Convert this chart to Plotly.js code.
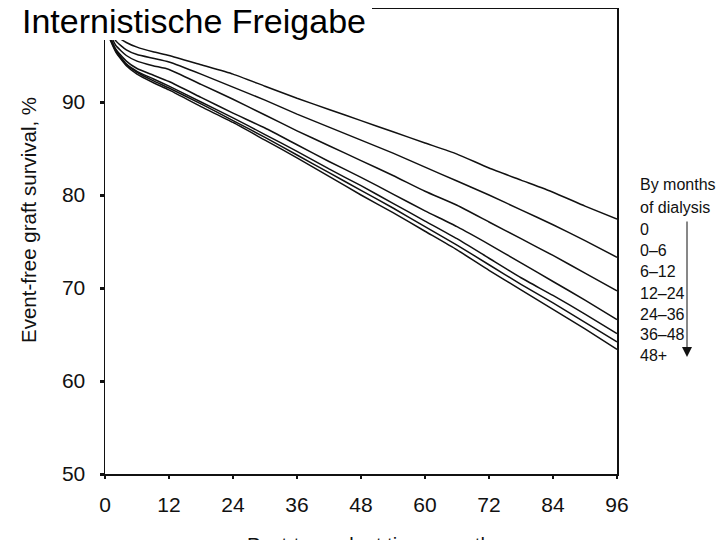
<!DOCTYPE html>
<html>
<head>
<meta charset="utf-8">
<script src="https://cdn.plot.ly/plotly-3.0.1.min.js"></script>
<style>html,body{margin:0;padding:0;background:#fff;}#chart{width:720px;height:540px;}</style>
</head>
<body>
<div id="chart"></div>
<script>
// Months post transplant
const months = [0, 2, 4, 6, 9, 12, 18, 24, 30, 36, 42, 48, 54, 60, 66, 72, 78, 84, 90, 96];
// Series: event-free graft survival (%) by months of dialysis
const seriesNames = ["0", "0–6", "6–12", "12–24", "24–36", "36–48", "48+"];
const surv0    = [99.5, 97.2, 96.4, 95.9, 95.4, 95.0, 94.0, 93.0, 91.7, 90.4, 89.2, 88.0, 86.8, 85.6, 84.4, 82.9, 81.6, 80.3, 78.8, 77.4];
const surv0_6  = [99.0, 96.6, 95.6, 95.1, 94.7, 94.3, 93.0, 91.6, 90.2, 88.7, 87.3, 85.9, 84.5, 83.0, 81.5, 80.0, 78.4, 76.8, 75.1, 73.3];
const surv6_12 = [98.6, 96.1, 95.0, 94.4, 93.9, 93.5, 91.9, 90.3, 88.6, 86.9, 85.3, 83.7, 82.1, 80.4, 78.9, 77.1, 75.3, 73.5, 71.6, 69.7];
const surv12_24= [98.3, 95.7, 94.4, 93.6, 92.9, 92.2, 90.5, 88.8, 87.2, 85.4, 83.6, 81.9, 80.1, 78.3, 76.6, 74.7, 72.7, 70.7, 68.7, 66.6];
const surv24_36= [98.2, 95.6, 94.1, 93.3, 92.5, 91.7, 90.0, 88.3, 86.5, 84.7, 82.8, 81.0, 79.1, 77.2, 75.3, 73.2, 71.1, 69.2, 67.2, 65.1];
const surv36_48= [98.1, 95.5, 94.0, 93.2, 92.3, 91.5, 89.8, 88.0, 86.2, 84.3, 82.4, 80.5, 78.6, 76.6, 74.6, 72.5, 70.4, 68.4, 66.3, 64.2];
const surv48p  = [98.0, 95.4, 93.9, 93.0, 92.1, 91.3, 89.5, 87.8, 85.9, 84.0, 82.0, 80.0, 78.1, 76.1, 74.1, 71.9, 69.8, 67.7, 65.6, 63.4];
const seriesValues = [surv0, surv0_6, surv6_12, surv12_24, surv24_36, surv36_48, surv48p];
const xTicks = [0, 12, 24, 36, 48, 60, 72, 84, 96];
const yTicks = [50, 60, 70, 80, 90];
const legendTitle = ["By months", "of dialysis"];

const font = "Liberation Sans, Arial, sans-serif";

const traces = seriesValues.map((vals, i) => ({
  x: months, y: vals, name: seriesNames[i], type: "scatter", mode: "lines",
  line: {color: "#111", width: 1.5, shape: "spline", smoothing: 0.5},
  hoverinfo: "skip"
}));

const annotations = [];
const pxToPaperX = px => (px - 105) / 512;
const pxToPaperY = py => (474 - py) / 465;
legendTitle.forEach((t, i) => {
  annotations.push({xref: "paper", yref: "paper", x: pxToPaperX(638), y: pxToPaperY([184, 207][i]),
    xanchor: "left", yanchor: "middle", showarrow: false, text: t,
    font: {family: font, size: 16, color: "#111"}});
});
const labelY = [229, 250, 271, 293, 314, 334, 355];
seriesNames.forEach((n, i) => {
  annotations.push({xref: "paper", yref: "paper", x: pxToPaperX(638), y: pxToPaperY(labelY[i]),
    xanchor: "left", yanchor: "middle", showarrow: false, text: n,
    font: {family: font, size: 16, color: "#111"}});
});
// Arrow
annotations.push({xref: "paper", yref: "paper", x: pxToPaperX(687), y: pxToPaperY(357),
  ax: 0, ay: -137, showarrow: true, arrowhead: 2, arrowsize: 2, arrowwidth: 1, arrowcolor: "#111", text: ""});
// Title
annotations.push({xref: "paper", yref: "paper", x: pxToPaperX(20), y: pxToPaperY(0),
  xanchor: "left", yanchor: "top", showarrow: false, text: "Internistische Freigabe",
  font: {family: font, size: 34, color: "#000"}});
// Y axis title
annotations.push({xref: "paper", yref: "paper", x: pxToPaperX(28), y: pxToPaperY(220),
  xanchor: "center", yanchor: "middle", showarrow: false, textangle: -90,
  text: "Event-free graft survival, %", font: {family: font, size: 20.5, color: "#111"}});
// X axis title (cut off at bottom, as in the reference)
annotations.push({xref: "paper", yref: "paper", x: pxToPaperX(374), y: pxToPaperY(532),
  xanchor: "center", yanchor: "top", showarrow: false,
  text: "Post-transplant time, months", font: {family: font, size: 20, color: "#111"}});

const layout = {
  width: 720, height: 540,
  margin: {l: 105, r: 103, t: 9, b: 66},
  paper_bgcolor: "#fff", plot_bgcolor: "#fff",
  showlegend: false,
  xaxis: {range: [0, 96], tickvals: xTicks, ticktext: xTicks.map(String),
    showgrid: false, zeroline: false, showline: true, mirror: true, linecolor: "#111", linewidth: 1.5,
    ticks: "outside", ticklen: 3, tickwidth: 2, tickcolor: "#111",
    tickfont: {family: font, size: 21, color: "#111"}, ticklabelstandoff: 8},
  yaxis: {range: [50, 100], tickvals: yTicks, ticktext: yTicks.map(String),
    showgrid: false, zeroline: false, showline: true, mirror: true, linecolor: "#111", linewidth: 1.5,
    ticks: "outside", ticklen: 4, tickwidth: 3, tickcolor: "#111",
    tickfont: {family: font, size: 21, color: "#111"}, ticklabelstandoff: 10},
  shapes: [{type: "rect", xref: "paper", yref: "paper", layer: "above",
    x0: pxToPaperX(0), x1: pxToPaperX(372), y0: pxToPaperY(40), y1: pxToPaperY(-2),
    fillcolor: "#fff", line: {width: 0}}],
  annotations: annotations
};

Plotly.newPlot("chart", traces, layout, {displayModeBar: false, staticPlot: true});
</script>
</body>
</html>
